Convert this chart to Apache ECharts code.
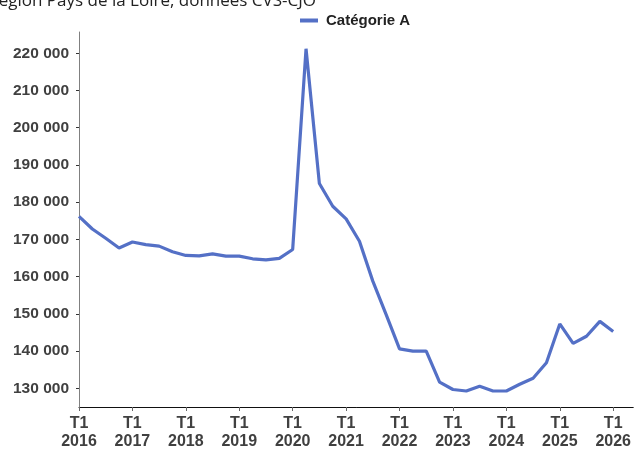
<!DOCTYPE html>
<html><head><meta charset="utf-8">
<script src="https://cdn.jsdelivr.net/npm/echarts@6/dist/echarts.min.js"></script>
<style>html,body{margin:0;padding:0;background:#fff}#c{width:634px;height:451px}</style>
</head><body><div id="c"></div>
<script>
const titleText = "Région Pays de la Loire, données CVS-CJO";
const seriesName = "Catégorie A";
const startYear = 2016;
// quarterly values, T1 2016 .. T1 2026
const values = [
  176200, 172800, 170300, 167700,
  169300, 168600, 168200, 166700,
  165700, 165600, 166100, 165500,
  165500, 164800, 164500, 164900,
  167300, 221200, 185000, 178900,
  175500, 169500, 158800, 149800,
  140600, 140000, 140000, 131700,
  129700, 129300, 130600, 129300,
  129300, 131100, 132700, 136900,
  147300, 142100, 144000, 148000,
  145300
];
const yTicks = [130000,140000,150000,160000,170000,180000,190000,200000,210000,220000];
const xTickYears = [2016,2017,2018,2019,2020,2021,2022,2023,2024,2025,2026];

const xTickPos = xTickYears.map(y => (y - startYear) * 4);
const data = values.map((v, i) => [i, v]);
const fmt = v => String(v).replace(/\B(?=(\d{3})+(?!\d))/g, ' ');

const chart = echarts.init(document.getElementById('c'), null, {renderer: 'canvas'});
chart.setOption({
  animation: false,
  backgroundColor: '#fff',
  graphic: [{
    type: 'text', x: 316, y: 1,
    style: {text: titleText, align: 'right', verticalAlign: 'middle',
      font: '17px "Open Sans"', fill: '#222'}
  }],
  legend: {
    left: 295, top: 8, icon: 'rect', itemWidth: 18, itemHeight: 4, itemGap: 10,
    textStyle: {fontFamily: 'Liberation Sans', fontWeight: 'bold', fontSize: 15, color: '#222', padding: [0,0,0,3]},
    data: [seriesName]
  },
  grid: {left: 79, right: 0, top: 32, bottom: 43, containLabel: false},
  xAxis: {
    type: 'value', min: 0, max: 41.5,
    splitLine: {show: false},
    axisLine: {lineStyle: {color: '#111', width: 1}},
    axisTick: {show: true, length: 4, lineStyle: {color: '#666'}, customValues: xTickPos},
    axisLabel: {
      customValues: xTickPos, margin: 8,
      formatter: v => 'T1\n' + (startYear + Math.round(v / 4)),
      fontFamily: 'Liberation Sans', fontWeight: 'bold', fontSize: 16, color: '#404040', lineHeight: 18
    }
  },
  yAxis: {
    type: 'value', min: 125000, max: 225700,
    splitLine: {show: false},
    axisLine: {show: true, lineStyle: {color: '#808080', width: 1}},
    axisTick: {show: true, length: 3, lineStyle: {color: '#333'}, customValues: yTicks},
    axisLabel: {
      customValues: yTicks, margin: 10, formatter: fmt,
      fontFamily: 'Liberation Sans', fontWeight: 'bold', fontSize: 15.5, color: '#404040'
    }
  },
  series: [{
    name: seriesName, type: 'line', data: data, showSymbol: false, symbol: 'none',
    lineStyle: {width: 3.2, color: '#5470c6'}, itemStyle: {color: '#5470c6'}
  }]
});
</script>
</body></html>
